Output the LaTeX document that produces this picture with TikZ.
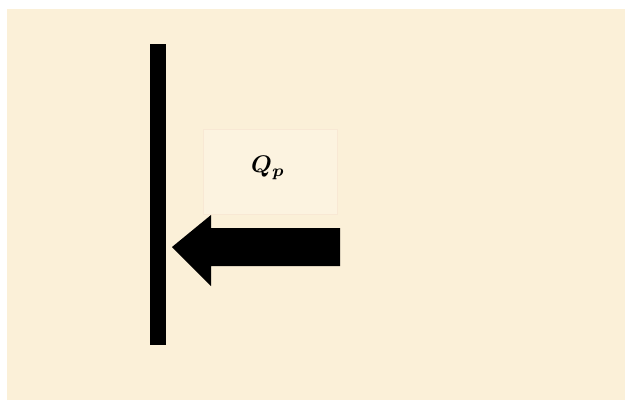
\documentclass[tikz,border=0pt]{standalone}
\usepackage{amsmath,bm,graphicx}
\definecolor{parch}{HTML}{FBF0D8}
\definecolor{boxfill}{HTML}{FCF3E0}
\definecolor{boxline}{HTML}{F8E8D4}
\begin{document}
\begin{tikzpicture}[x=1pt,y=-1pt,
  wall/.style={fill=black},
  label/.style={fill=boxfill,draw=boxline,line width=0.5pt,minimum width=134pt,minimum height=85pt,inner sep=0pt}]
\useasboundingbox (0,0) rectangle (625,400);
\fill[white] (0,0) rectangle (625,400);
\fill[parch] (7,9) rectangle (625,400);
\fill[wall] (150,44) rectangle (166,345);
\node[label] (qp) at (270,171.5) {};
\node[inner sep=0pt] (qptext) at (268,168) {\scalebox{2.4}{$\bm{Q_p}$}};
\fill[black] (340,228) -- (211,228) -- (211,215) -- (172,247) -- (211,286) -- (211,266) -- (340,266) -- cycle;
\end{tikzpicture}
\end{document}
